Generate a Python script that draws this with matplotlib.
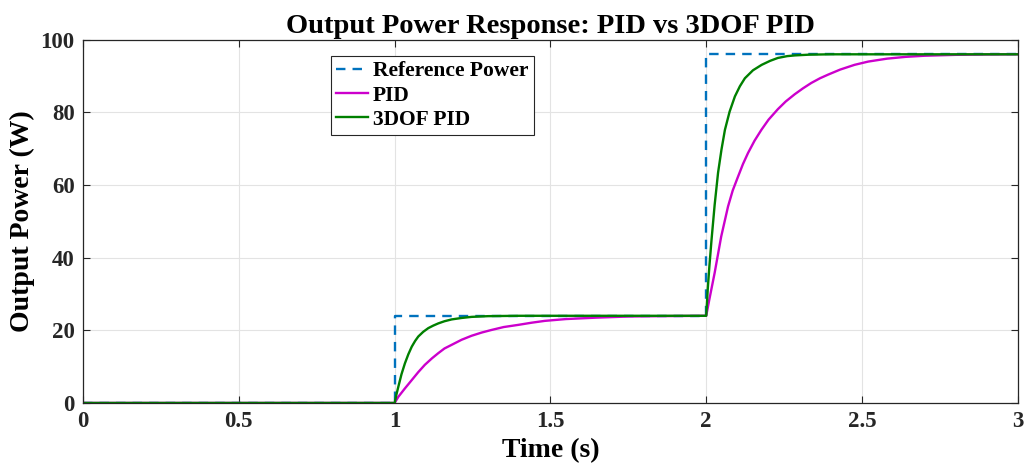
import matplotlib
matplotlib.use("Agg")
import matplotlib.pyplot as plt

plt.rcParams['font.family'] = ['Liberation Serif', 'DejaVu Serif']
plt.rcParams['font.weight'] = 'bold'

# reference power (step profile)
t_ref = [0, 1.0, 1.0, 2.0, 2.0, 3.0]
p_ref = [0, 0, 24, 24, 96, 96]

# PID response
t_pid = [0, 1.0, 1.012, 1.033, 1.055, 1.076, 1.097, 1.12, 1.14, 1.16, 1.183, 1.215,
         1.247, 1.28, 1.311, 1.35, 1.397, 1.44, 1.482, 1.55, 1.65, 1.75, 1.85, 2.0,
         2.01, 2.027, 2.048, 2.07, 2.085, 2.102, 2.118, 2.134, 2.155, 2.177, 2.2,
         2.23, 2.255, 2.284, 2.31, 2.337, 2.365, 2.391, 2.43, 2.476, 2.52, 2.58,
         2.64, 2.7, 2.8, 2.9, 3.0]
p_pid = [0, 0, 1.7, 4.0, 6.3, 8.5, 10.5, 12.3, 13.7, 15.0, 16.0, 17.4,
         18.5, 19.4, 20.1, 20.9, 21.5, 22.1, 22.6, 23.1, 23.5, 23.8, 23.9, 24.0,
         28.5, 35.8, 45.8, 54.1, 58.5, 62.3, 65.8, 68.8, 72.2, 75.2, 78.0,
         80.9, 83.0, 85.0, 86.6, 88.1, 89.4, 90.4, 91.8, 93.1, 94.0, 94.8,
         95.3, 95.6, 95.85, 95.95, 96.0]

# 3DOF PID response
t_dof = [0, 1.0, 1.006, 1.012, 1.022, 1.033, 1.044, 1.055, 1.066, 1.076, 1.092,
         1.108, 1.124, 1.14, 1.16, 1.183, 1.215, 1.247, 1.3, 1.4, 1.6, 2.0,
         2.005, 2.01, 2.017, 2.027, 2.038, 2.049, 2.06, 2.075, 2.092, 2.108, 2.124,
         2.15, 2.178, 2.205, 2.23, 2.26, 2.285, 2.33, 2.4, 2.5, 3.0]
p_dof = [0, 0, 2.4, 4.5, 7.9, 10.9, 13.4, 15.5, 17.1, 18.3, 19.6,
         20.6, 21.3, 21.9, 22.5, 23.0, 23.4, 23.7, 23.9, 24.0, 24.0, 24.0,
         31.5, 37.5, 44.9, 54.5, 63.4, 69.8, 75.2, 80.2, 84.4, 87.2, 89.4,
         91.6, 93.1, 94.2, 95.0, 95.5, 95.7, 95.9, 96.0, 96.0, 96.0]

fig, ax = plt.subplots(figsize=(10.25, 4.68), dpi=100)
fig.subplots_adjust(left=0.081, right=0.993, top=0.915, bottom=0.139)

ax.plot(t_ref, p_ref, '--', color='#0072BD', lw=1.7, dashes=(4, 3), label='Reference Power')
ax.plot(t_pid, p_pid, color='#CC00CC', lw=1.7, label='PID')
ax.plot(t_dof, p_dof, color='#008000', lw=1.7, label='3DOF PID')

ax.set_xlim(0, 3)
ax.set_ylim(0, 100)
ax.set_xticks([0, 0.5, 1, 1.5, 2, 2.5, 3])
ax.set_xticklabels(['0', '0.5', '1', '1.5', '2', '2.5', '3'])
ax.set_yticks([0, 20, 40, 60, 80, 100])
ax.grid(True, color='#e3e3e3', lw=0.8)
ax.set_axisbelow(True)
ax.tick_params(direction='in', top=True, right=True, length=5, width=0.8,
               labelsize=16.5, colors='#262626', pad=6)
for s in ax.spines.values():
    s.set_color('#262626')
    s.set_linewidth(0.9)

ax.set_xlabel('Time (s)', fontsize=20, fontweight='bold', labelpad=4)
ax.set_ylabel('Output Power (W)', fontsize=20, fontweight='bold', labelpad=4)
ax.set_title('Output Power Response: PID vs 3DOF PID', fontsize=20.5, fontweight='bold', pad=5)

leg = ax.legend(loc='upper left', bbox_to_anchor=(0.265, 0.956), fontsize=15.5,
                frameon=True, fancybox=False, framealpha=1, edgecolor='#262626',
                handlelength=1.5, handletextpad=0.2, borderpad=0.25, labelspacing=0.2,
                borderaxespad=0)
leg.get_frame().set_linewidth(0.8)

fig.savefig('out.png', dpi=100)
